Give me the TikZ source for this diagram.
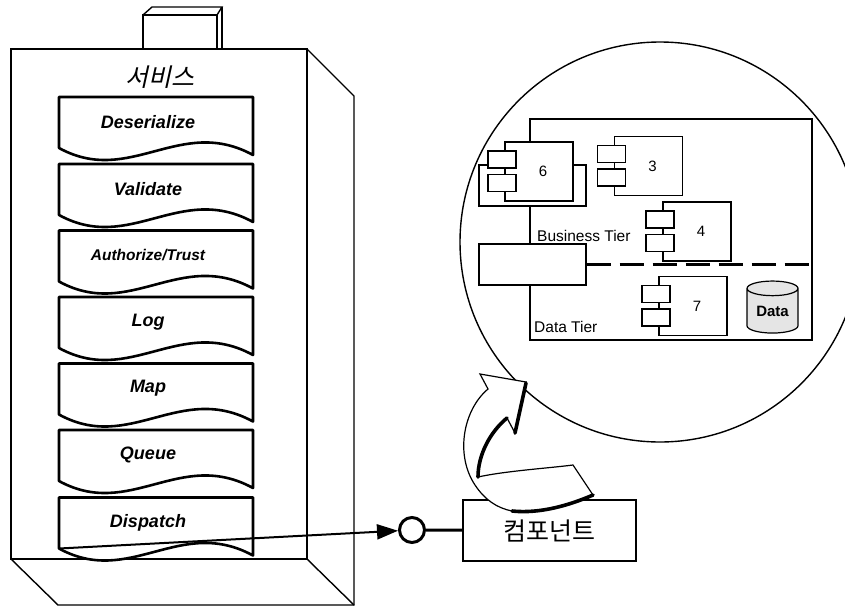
\documentclass[tikz,border=0pt]{standalone}
\usepackage{fontspec}
\setmainfont{Liberation Sans}
\newfontfamily\korfont{Noto Sans CJK KR}
\newfontfamily\korslant[FakeSlant=0.22]{Noto Sans CJK KR}
\usetikzlibrary{arrows.meta,positioning,shapes.geometric,calc}

\tikzset{
  boxline/.style={draw=black,line width=1.4pt,line join=miter},
  stageline/.style={draw=black,fill=white,line width=2.6pt,line join=round},
  stagelbl/.style={inner sep=0pt},
  tierframe/.style={draw,line width=1.2pt,minimum width=282pt,minimum height=221pt,inner sep=0pt},
  compbody/.style={draw,fill=white,line width=1.2pt,minimum width=68pt,minimum height=59pt,
                   inner sep=0pt,font=\fontsize{15}{17}\selectfont},
  comptab/.style={draw,fill=white,line width=1.2pt,minimum width=28pt,minimum height=17pt,inner sep=0pt},
  plainbox/.style={draw,fill=white,line width=1.2pt,minimum width=107pt,minimum height=41pt,inner sep=0pt},
  tierlbl/.style={font=\fontsize{15.5}{17}\selectfont,inner sep=0pt,anchor=west},
  tierline/.style={line width=3pt,dash pattern=on 24pt off 9pt},
  wire/.style={line width=2pt,-{Triangle[length=21pt,width=15pt]}},
  lollipop/.style={circle,draw,line width=3pt,minimum size=25pt,inner sep=0pt},
  bendarrow/.style={draw,fill=white,line width=1.2pt,line join=miter},
  bendshade/.style={line width=3.6pt,line cap=round},
}

\begin{document}
\begin{tikzpicture}[x=1pt,y=-1pt]
  \useasboundingbox (0,0) rectangle (845,608);
  \clip (0,0) rectangle (845,608);
  % ---------------- service container ----------------
  \draw[boxline] (143,15) -- (152,7) -- (222,7) -- (217,15);
  \draw[boxline] (222,7) -- (222,49);
  \draw[boxline] (143,49) -- (143,15) -- (217,15) -- (217,49);
  \draw[boxline] (11,49) rectangle (307,559);
  \draw[boxline] (307,49) -- (354,96) -- (354,605) -- (58,605) -- (11,559);
  \draw[boxline] (307,559) -- (354,605);
  \node[font=\korslant\fontsize{25}{25}\selectfont] (svc) at (160,77) {서비스};
  % ---------------- pipeline stages ----------------
  \foreach \nm/\txt/\ytop/\fs in {deser/Deserialize/97/18, valid/Validate/164/18,
      auth/{Authorize/Trust}/230.5/15.5, log/Log/297/18, map/Map/363.5/18,
      queue/Queue/430/18, dispatch/Dispatch/497.5/18}{
    \draw[stageline] (59,\ytop+51) coordinate (\nm-sw) -- (59,\ytop) -- (253,\ytop)
      -- (253,\ytop+58) .. controls (180,\ytop+18) and (130,\ytop+90) .. (59,\ytop+51) -- cycle;
    \node[stagelbl,font=\fontsize{\fs}{\fs}\selectfont\bfseries\itshape] (\nm) at (148,\ytop+25) {\txt};
  }
  % ---------------- zoomed view ----------------
  \node[circle,draw,line width=1.4pt,minimum size=400pt,inner sep=0pt] (lens) at (660,242) {};
  \node[tierframe] (frame) at (671,229.5) {};
  \node[plainbox] (host6) at (532.5,185.5) {};
  \foreach \c/\pos/\lab in {c6/{539,171.5}/6, c3/{648.5,166}/3, c4/{697,231.5}/4, c7/{693,306}/7}{
    \node[compbody] (\c) at (\pos) {\hspace*{8pt}\lab};
    \node[comptab] (\c-a) at ([xshift=-2.5pt,yshift=12pt]\c.west) {};
    \node[comptab] (\c-b) at ([xshift=-2.5pt,yshift=-11.5pt]\c.west) {};
  }
  \node[plainbox] (gateway) at (532.5,264.5) {};
  \draw[tierline] (gateway.east) -- (gateway.east -| frame.east);
  \node[tierlbl] (biz) at (537,236) {Business Tier};
  \node[tierlbl] (dat) at (534,327) {Data Tier};
  \node[cylinder,shape border rotate=90,draw,fill=black!10,aspect=0.45,line width=1.2pt,
        minimum width=51pt,minimum height=52pt,inner sep=0pt,
        font=\bfseries\fontsize{15}{17}\selectfont] (store) at (772.5,311) {Data};
  % ---------------- component ----------------
  \node[lollipop] (lolli) at (412,530) {};
  \node[draw,line width=1.2pt,minimum width=173pt,minimum height=61pt,
        font=\korfont\fontsize{25}{25}\selectfont] (comp) at (549.5,530.5) {컴포넌트};
  \draw[line width=3pt] (lolli) -- (comp);
  \draw[wire] (dispatch-sw) -- (lolli);
  % ---------------- bent block arrow ----------------
  \draw[bendarrow] (573,465) .. controls (550,468) and (505,471) .. (478,477)
    .. controls (478,455) and (490,432) .. (507,418) -- (515,433) -- (526,382)
    -- (480,374) -- (488,389) .. controls (463,410) and (455,455) .. (475,485)
    .. controls (485,500) and (497,508) .. (512,511)
    .. controls (540,514) and (570,505) .. (593,495) -- cycle;
  \draw[bendshade] (478,477) .. controls (478,455) and (490,432) .. (507,418);
  \draw[bendshade] (515,433) -- (526,383);
  \draw[bendshade] (512,511) .. controls (540,514) and (570,505) .. (593,495);
\end{tikzpicture}
\end{document}
